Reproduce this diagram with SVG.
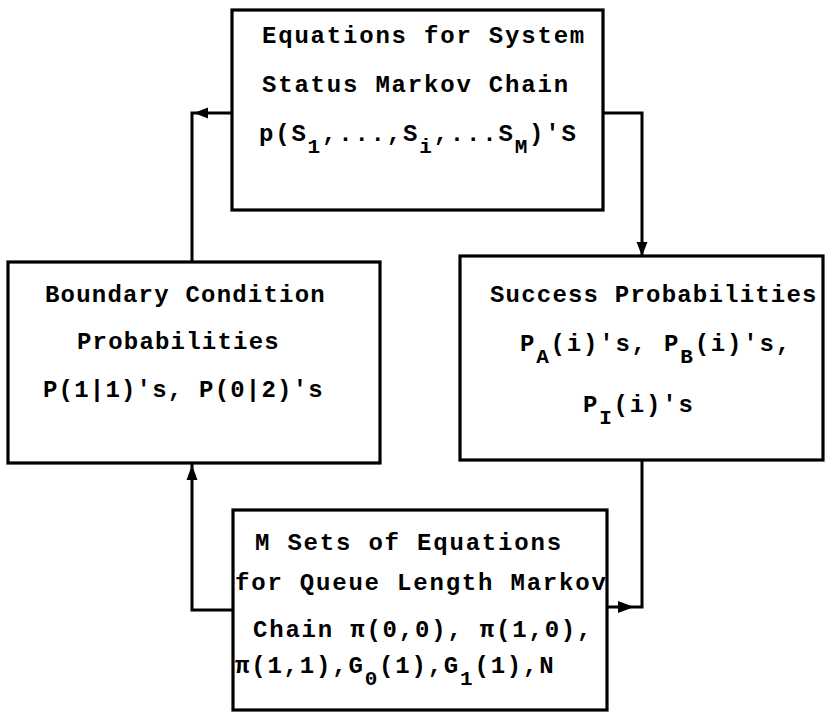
<svg xmlns="http://www.w3.org/2000/svg" width="826" height="712" viewBox="0 0 826 712">
<style>
.box{fill:#fff;stroke:#000;stroke-width:3.2}
.con{fill:none;stroke:#000;stroke-width:3}
.ah{fill:#000}
text{font-family:"Liberation Mono","Courier New",monospace;font-weight:bold;font-size:24px;letter-spacing:1.8px;fill:#000}
.sub{font-size:21px}
.tight{letter-spacing:1.2px}
</style>
<defs>
<clipPath id="clipBottom"><rect x="233" y="510" width="374" height="200"/></clipPath>
</defs>
<rect width="826" height="712" fill="#fff"/>
<g id="connectors">
<path class="con" d="M232,113 H192 V262"/>
<path class="ah" d="M194,113 L208,107.5 L208,118.5 Z"/>
<path class="con" d="M603,113 H642 V257"/>
<path class="ah" d="M642,256 L636.5,242 L647.5,242 Z"/>
<path class="con" d="M233,610 H192 V463"/>
<path class="ah" d="M192,465 L186.5,480 L197.5,480 Z"/>
<path class="con" d="M607,607 H642 V460"/>
<path class="ah" d="M634,607 L618,601 L618,613 Z"/>
</g>
<g id="top">
<rect class="box" x="232" y="10" width="371" height="200"/>
<text x="262" y="43">Equations for System</text>
<text x="262" y="92">Status Markov Chain</text>
<text x="259" y="141">p(S<tspan class="sub" dy="12">1</tspan><tspan dy="-12">,...,S</tspan><tspan class="sub" dy="12">i</tspan><tspan dy="-12">,...S</tspan><tspan class="sub" dy="12">M</tspan><tspan dy="-12">)'S</tspan></text>
</g>
<g id="left">
<rect class="box" x="8" y="262" width="372" height="201"/>
<text x="45" y="302" class="tight">Boundary Condition</text>
<text x="77" y="349" class="tight">Probabilities</text>
<text x="43" y="397" class="tight">P(1|1)'s, P(0|2)'s</text>
</g>
<g id="right">
<rect class="box" x="460" y="256" width="363" height="204"/>
<text x="490" y="302" class="tight">Success Probabilities</text>
<text x="520" y="351">P<tspan class="sub" dy="12">A</tspan><tspan dy="-12">(i)'s, P</tspan><tspan class="sub" dy="12">B</tspan><tspan dy="-12">(i)'s,</tspan></text>
<text x="583" y="412">P<tspan class="sub" dy="12">I</tspan><tspan dy="-12">(i)'s</tspan></text>
</g>
<g id="bottom">
<rect class="box" x="233" y="510" width="374" height="200"/>
<text x="255" y="550">M Sets of Equations</text>
<text x="235" y="590" clip-path="url(#clipBottom)">for Queue Length Markov</text>
<text x="253" y="637">Chain π(0,0), π(1,0),</text>
<text x="235" y="673">π(1,1),G<tspan class="sub" dy="12">0</tspan><tspan dy="-12">(1),G</tspan><tspan class="sub" dy="12">1</tspan><tspan dy="-12">(1),N</tspan></text>
</g>
</svg>
